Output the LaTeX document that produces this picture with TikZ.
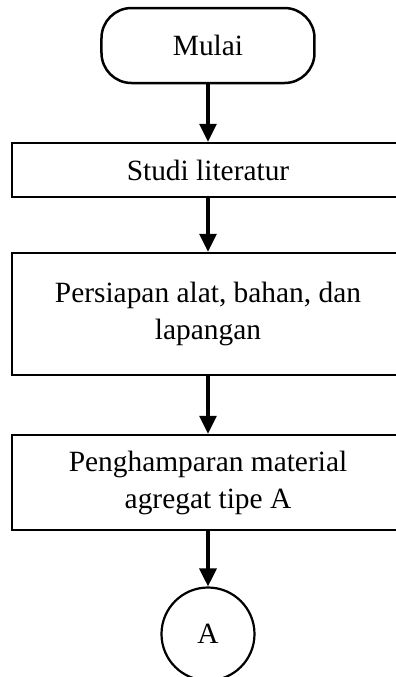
\documentclass[tikz,border=0pt]{standalone}
\usepackage{fontspec}
\setmainfont{Liberation Serif}
\usetikzlibrary{arrows.meta,positioning}
\tikzset{
  proses/.style={rectangle,draw=black,line width=1.25pt,minimum width=196pt,align=center,inner sep=2pt},
  terminal/.style={rectangle,rounded corners=15pt,draw=black,line width=1.25pt,minimum width=106.5pt,minimum height=37.5pt},
  konektor/.style={circle,draw=black,line width=1.1pt,minimum size=46.5pt,inner sep=0pt},
  alur/.style={-{Triangle[width=8.5pt,length=9pt]},line width=1.6pt}
}
\begin{document}
\begin{tikzpicture}[x=0.5pt,y=-0.5pt,font=\fontsize{14.7}{18.5}\selectfont]
\clip (0,0) rectangle (396,677);
% \draw[help lines] (0,0) grid (396,677);
\node (mulai) [terminal] at (208,45.5) {Mulai};
\node (studi) [proses,minimum height=27pt] at (208,170) {Studi literatur};
\node (persiapan) [proses,minimum height=61pt] at (208,314) {Persiapan alat, bahan, dan\\lapangan};
\node (hampar) [proses,minimum height=47.5pt] at (208,482.5) {Penghamparan material\\agregat tipe A};
\node (a) [konektor] at (208,634) {A};
%
\draw[alur] (mulai) -- (studi);
\draw[alur] (studi) -- (persiapan);
\draw[alur] (persiapan) -- (hampar);
\draw[alur] (hampar) -- (a);
\end{tikzpicture}
\end{document}
